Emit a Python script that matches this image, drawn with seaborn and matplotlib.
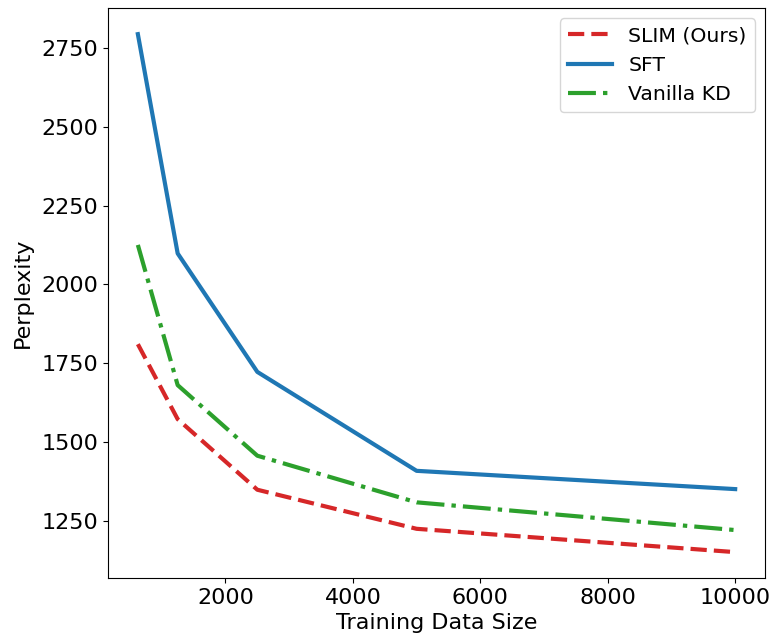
import matplotlib
matplotlib.use("Agg")
import matplotlib.pyplot as plt
import seaborn as sns
import pandas as pd

sizes = [625, 1250, 2500, 5000, 10000]
slim = [1810, 1572, 1348, 1224, 1150]
sft = [2794, 2098, 1722, 1408, 1350]
kd = [2125, 1680, 1456, 1308, 1220]

series = [
    ("SLIM (Ours)", slim, "tab:red", (0, (3.9, 1.7))),
    ("SFT", sft, "tab:blue", "-"),
    ("Vanilla KD", kd, "tab:green", (0, (6.7, 1.7, 1.05, 1.7))),
]

fig = plt.figure(figsize=(7.73, 6.34), dpi=100)
ax = fig.add_axes([0.1397, 0.0883, 0.8500, 0.8987])

for name, vals, color, ls in series:
    df = pd.DataFrame({"x": sizes, "y": vals})
    sns.lineplot(data=df, x="x", y="y", ax=ax, color=color, linestyle=ls,
                 linewidth=3, label=name)

ax.set_xlabel("Training Data Size", fontsize=16, labelpad=4)
ax.set_ylabel("Perplexity", fontsize=16, labelpad=6)
ax.tick_params(labelsize=16)
ax.set_xticks([2000, 4000, 6000, 8000, 10000])
ax.set_yticks([1250, 1500, 1750, 2000, 2250, 2500, 2750])
ax.legend(fontsize=14.7, loc="upper right", handlelength=2.15)

fig.savefig("out.png", dpi=100)
